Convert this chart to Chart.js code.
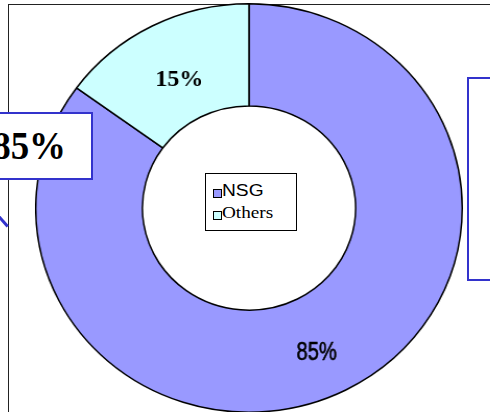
<!DOCTYPE html>
<html>
<head>
<meta charset="utf-8">
<script src="https://cdn.jsdelivr.net/npm/chart.js@4"></script>
<style>
  html, body { margin: 0; padding: 0; width: 490px; height: 412px; overflow: hidden; background: #fff; }
  .frame { position: absolute; left: 8px; top: 4px; width: 600px; height: 600px; border: 1.5px solid #222; }
  .wrap { position: absolute; left: 44px; top: 3px; width: 410px; height: 410px; transform: scaleX(1.044); transform-origin: 50% 50%; }
  .legend { position: absolute; left: 205px; top: 173px; width: 90px; height: 56px; border: 1px solid #000; background: #fff; }
  .legend .sw { position: absolute; left: 7px; width: 7px; height: 7px; border: 1px solid #000; }
  .legend .lb { position: absolute; left: 16px; color: #000; white-space: nowrap; transform: scaleX(1.2); transform-origin: 0 50%; }
  .bigbox { position: absolute; left: -40px; top: 112px; width: 129px; height: 64px; border: 2px solid #3333cc; background: #fff; }
  .bigbox span { position: absolute; right: 25px; top: 7px; font: bold 41px "Liberation Serif", "Times New Roman", Tinos, serif; color: #000; transform: scaleX(0.9); transform-origin: 100% 50%; }
  .rightbox { position: absolute; left: 467px; top: 77px; width: 100px; height: 200px; border: 2px solid #3333cc; background: #fff; }
  .stroke { position: absolute; left: -3px; top: 213px; width: 16px; height: 3px; background: #3333cc; transform: rotate(48deg); transform-origin: 0 50%; }
</style>
</head>
<body>
<div class="frame"></div>
<div class="stroke"></div>
<div class="wrap"><canvas id="donut"></canvas></div>
<div class="legend" id="legend"></div>
<div class="bigbox"><span id="bigLabel"></span></div>
<div class="rightbox"></div>
<script>
// Valeurs du graphique
const categories = ['NSG', 'Others'];
const shares = [85, 15];
const sliceLabels = ['85%', '15%'];
const sliceColors = ['#9999ff', '#ccffff'];
const legendFonts = ['16px "Liberation Sans", Arial, sans-serif', '16px "Liberation Serif", "Times New Roman", serif'];
const labelFonts = ['25px "Liberation Sans", Arial, sans-serif', 'bold 24px "Liberation Serif", "Times New Roman", serif'];
const labelSquash = [0.8, 1];
const labelShift = [[-5, 9], [3, 8]];
const stretchX = 1.044;

// Légende au centre
const legend = document.getElementById('legend');
categories.forEach((name, i) => {
    const sw = document.createElement('div');
    sw.className = 'sw';
    sw.style.top = (15 + i * 22) + 'px';
    sw.style.background = sliceColors[i];
    legend.appendChild(sw);
    const lb = document.createElement('div');
    lb.className = 'lb';
    lb.style.top = (8 + i * 22) + 'px';
    lb.style.font = legendFonts[i];
    lb.textContent = name;
    legend.appendChild(lb);
});
document.getElementById('bigLabel').textContent = sliceLabels[0];

// Étiquettes des parts
const sliceText = {
    id: 'sliceText',
    afterDatasetsDraw(chart) {
        const { ctx } = chart;
        const meta = chart.getDatasetMeta(0);
        meta.data.forEach((arc, i) => {
            const p = arc.tooltipPosition();
            ctx.save();
            ctx.translate(p.x + labelShift[i][0] / stretchX, p.y + labelShift[i][1]);
            ctx.scale(labelSquash[i] / stretchX, 1);
            ctx.font = labelFonts[i];
            ctx.fillStyle = '#000';
            ctx.strokeStyle = '#000';
            ctx.lineWidth = i === 0 ? 0.6 : 0;
            ctx.textAlign = 'center';
            ctx.textBaseline = 'middle';
            ctx.fillText(sliceLabels[i], 0, 0);
            if (i === 0) ctx.strokeText(sliceLabels[i], 0, 0);
            ctx.restore();
        });
    }
};

new Chart(document.getElementById('donut'), {
    type: 'doughnut',
    data: {
        labels: categories,
        datasets: [{
            data: shares,
            backgroundColor: sliceColors,
            borderColor: '#000',
            borderWidth: 1.5,
            borderAlign: 'center'
        }]
    },
    options: {
        responsive: true,
        maintainAspectRatio: false,
        animation: false,
        cutout: '50%',
        rotation: 0,
        layout: { padding: 0 },
        plugins: {
            legend: { display: false },
            tooltip: { enabled: false }
        }
    },
    plugins: [sliceText]
});
</script>
</body>
</html>
